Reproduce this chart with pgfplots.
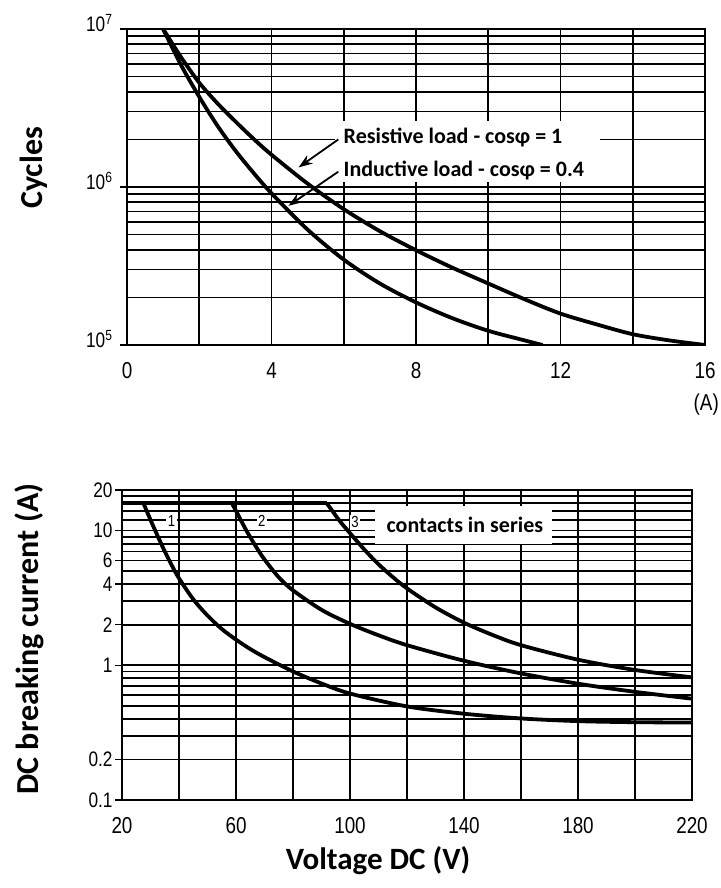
\documentclass[border=0pt]{standalone}
\usepackage{fontspec}
\setmainfont{Carlito}
\newfontfamily\tickfont[FakeStretch=0.82]{Liberation Sans}
\usepackage{pgfplots}
\pgfplotsset{compat=1.18}
\usetikzlibrary{arrows.meta}

\pgfplotsset{
  relaystyle/.style={
    scale only axis,
    anchor=south west,
    grid=both,
    major grid style={black, line width=1.8pt},
    minor grid style={black, line width=1.8pt},
    axis line style={black, line width=2.8pt},
    tick align=outside,
    ytick pos=left,
    xtick pos=bottom,
    major tick length=7pt,
    minor tick length=0pt,
    xtick style={draw=none},
    ytick style={black, line width=1.5pt},
    tick label style={text=black},
  },
  curve/.style={black, line width=3.8pt, no markers, smooth},
}

\begin{document}
\begin{tikzpicture}
\path[use as bounding box] (0,0) rectangle (720pt,888pt);

% ---------------- top chart ----------------
\begin{axis}[relaystyle, at={(127pt,543pt)}, width=578pt, height=316pt,
  xmin=0, xmax=16, ymode=log, ymin=1e5, ymax=1e7,
  xtick={0,4,8,12,16}, xticklabels={0,4,8,12,16},
  minor xtick={2,6,10,14},
  ytick={1e5,1e6,1e7},
  yticklabels={10\textsuperscript{5},10\textsuperscript{6},10\textsuperscript{7}},
  minor ytick={2e5,3e5,4e5,5e5,6e5,7e5,8e5,9e5,2e6,3e6,4e6,5e6,6e6,7e6,8e6,9e6},
  xticklabel style={font=\tickfont\fontsize{23}{23}\selectfont, yshift=-7pt},
  yticklabel style={font=\tickfont\fontsize{21}{21}\selectfont, yshift=6pt, xshift=-4pt},
]
\fill[white] (axis cs:5.75,1.08e6) rectangle (axis cs:13.1,2.6e6);
% Resistive load
\addplot[curve] coordinates {(1,1e7) (1.5,6.61e6) (2,4.57e6) (2.5,3.39e6) (3,2.60e6) (3.5,2.02e6) (4,1.60e6) (5,1.05e6) (6,7.24e5) (7,5.25e5) (8,3.98e5) (9,3.09e5) (10,2.45e5) (11,1.95e5) (12,1.58e5) (13,1.35e5) (14,1.17e5) (15,1.07e5) (16,1.0e5)};
% Inductive load
\addplot[curve] coordinates {(1,1e7) (1.5,5.89e6) (2,3.72e6) (2.5,2.45e6) (3,1.70e6) (3.5,1.23e6) (4,9.12e5) (5,5.37e5) (6,3.47e5) (7,2.45e5) (8,1.86e5) (9,1.48e5) (10,1.23e5) (11,1.07e5) (11.5,1.0e5)};
\node[anchor=west, font=\bfseries\fontsize{22}{22}\selectfont] at (axis cs:5.9,2.05e6) {Resistive load - cosφ = 1};
\node[anchor=west, font=\bfseries\fontsize{22}{22}\selectfont] at (axis cs:5.9,1.28e6) {Inductive load - cosφ = 0.4};
\draw[-{Stealth[length=14pt,width=10pt]}, line width=1.8pt] (axis cs:5.85,2.0e6) -- (axis cs:4.75,1.33e6);
\draw[-{Stealth[length=14pt,width=10pt]}, line width=1.8pt] (axis cs:5.85,1.25e6) -- (axis cs:4.47,7.6e5);
\end{axis}
\node[anchor=north east, inner xsep=1pt, font=\tickfont\fontsize{23}{23}\selectfont] at (720pt,498pt) {(A)};
\node[rotate=90, anchor=base, font=\bfseries\fontsize{32}{32}\selectfont] at (42pt,720pt) {Cycles};

% ---------------- bottom chart ----------------
\begin{axis}[relaystyle, at={(122pt,88pt)}, width=570pt, height=310pt,
  xmin=20, xmax=220, ymode=log, ymin=0.1, ymax=20,
  xtick={20,60,100,140,180,220}, xticklabels={20,60,100,140,180,220},
  minor xtick={40,80,120,160,200},
  ytick={0.1,0.2,1,2,4,6,10,20}, yticklabels={0.1,0.2,1,2,4,6,10,20},
  minor ytick={0.3,0.4,0.5,0.6,0.7,0.8,0.9,3,5,7,8,9,12,14,16,18},
  xticklabel style={font=\tickfont\fontsize{23}{23}\selectfont, yshift=-7pt},
  yticklabel style={font=\tickfont\fontsize{21}{21}\selectfont, xshift=1pt},
]
\fill[white] (axis cs:108.8,7.9) rectangle (axis cs:171,15.3);
\addplot[black, line width=3.8pt, no markers] coordinates {(20,16) (91.8,16)};
% 1 contact
\addplot[curve] coordinates {(27.5,16) (30,12.0) (32.5,9.12) (35,7.0) (37.5,5.5) (40,4.42) (45,3.09) (50,2.34) (55,1.86) (60,1.55) (65,1.32) (70,1.15) (80,0.90) (90,0.733) (100,0.617) (120,0.495) (140,0.437) (160,0.403) (180,0.385) (200,0.378) (220,0.376)};
% 2 contacts
\addplot[curve] coordinates {(58.5,16) (60,14.0) (62,11.6) (64,9.7) (67,7.6) (70,6.1) (75,4.5) (80,3.6) (90,2.58) (100,2.03) (110,1.67) (120,1.41) (140,1.08) (160,0.87) (180,0.73) (200,0.635) (220,0.565)};
% 3 contacts
\addplot[curve] coordinates {(91.8,16) (94,13.8) (96.5,11.7) (99.4,9.89) (105,7.24) (110,5.62) (115,4.52) (120,3.72) (130,2.69) (140,2.07) (150,1.68) (160,1.41) (180,1.10) (200,0.923) (220,0.813)};
\node[fill=white, inner sep=1.5pt, font=\tickfont\fontsize{16}{16}\selectfont] at (axis cs:37.4,11.8) {1};
\node[fill=white, inner sep=1.5pt, font=\tickfont\fontsize{16}{16}\selectfont] at (axis cs:69,11.8) {2};
\node[fill=white, inner sep=1.5pt, font=\tickfont\fontsize{16}{16}\selectfont] at (axis cs:101.8,11.5) {3};
\node[anchor=west, font=\bfseries\fontsize{22}{22}\selectfont] at (axis cs:111.6,11.1) {contacts in series};
\end{axis}
\node[rotate=90, anchor=base, font=\bfseries\fontsize{32}{32}\selectfont] at (39pt,249pt) {DC breaking current (A)};
\node[anchor=base, font=\bfseries\fontsize{31}{31}\selectfont] at (378pt,18pt) {Voltage DC (V)};
\end{tikzpicture}
\end{document}
